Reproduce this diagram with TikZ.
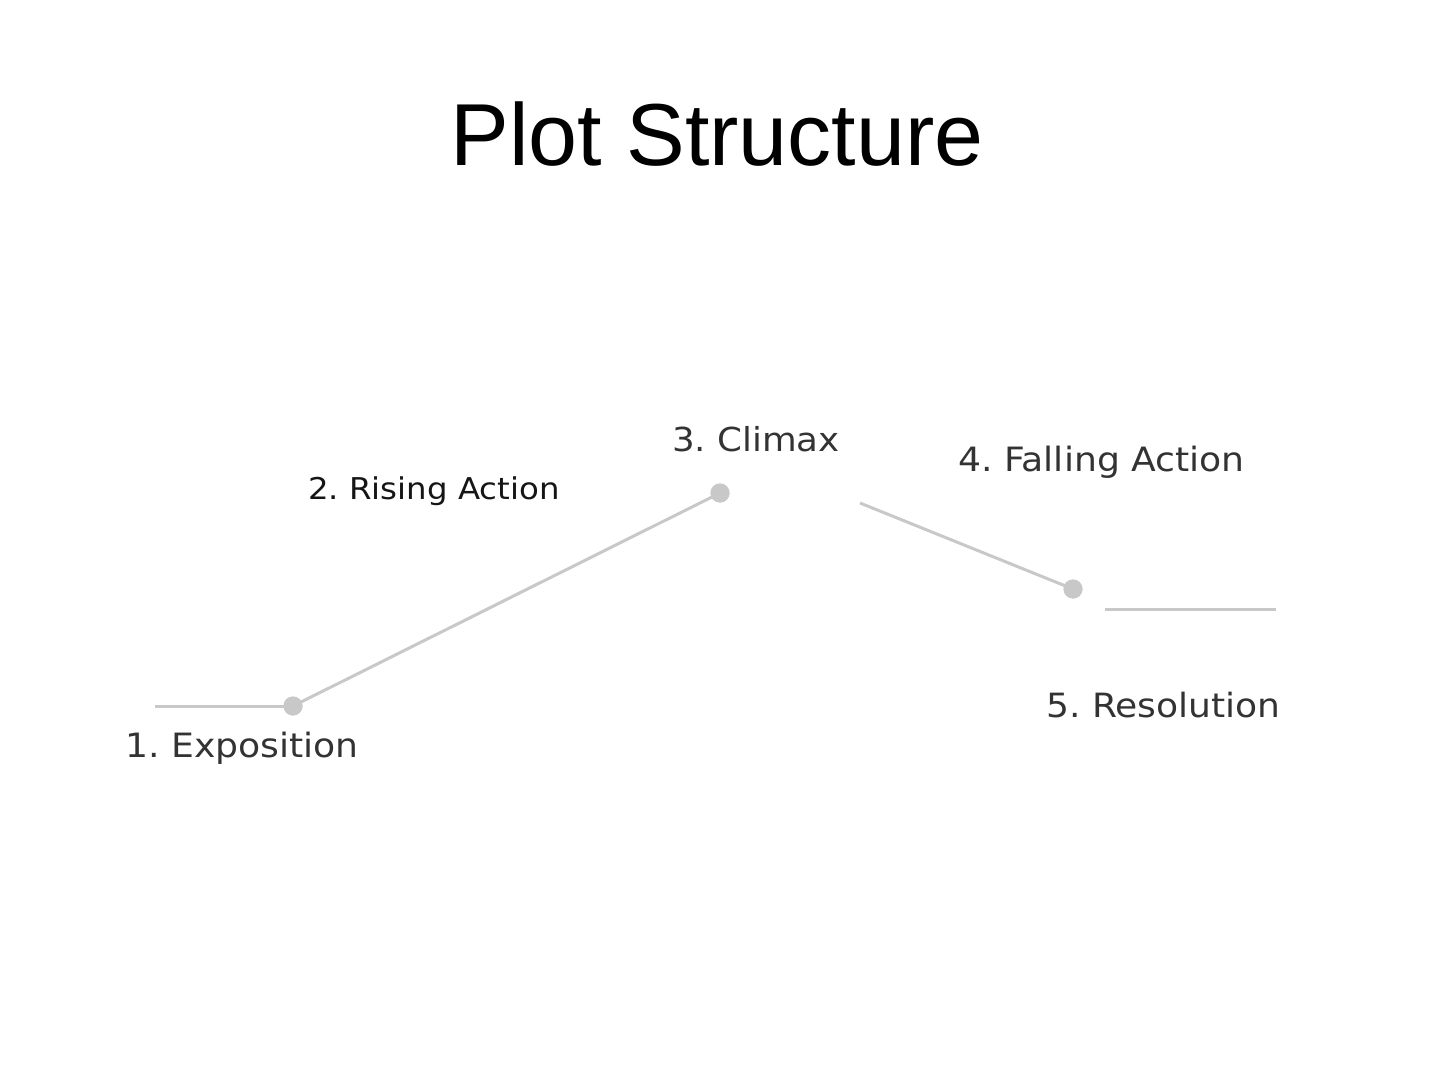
\documentclass[tikz,border=0pt]{standalone}
\usepackage{fontspec}
\setmainfont[FakeStretch=1.08]{DejaVu Sans}
\newfontfamily\titlefont{Liberation Sans}
\definecolor{linegray}{HTML}{C8C8C8}
\definecolor{textgray}{HTML}{333333}
\definecolor{textdark}{HTML}{151515}
\frenchspacing
\begin{document}
\begin{tikzpicture}[x=1pt,y=-1pt,
  plotline/.style={draw=linegray,line width=3pt},
  plotdot/.style={circle,fill=linegray,inner sep=0pt,minimum size=19pt},
  lbl/.style={inner sep=0pt,anchor=base west,text=textgray}]
\useasboundingbox (0,0) rectangle (1434,1070);
\node[inner sep=0pt,anchor=base,font=\titlefont\fontsize{88}{100}\selectfont] (title) at (717,165) {Plot Structure};
\coordinate (s1) at (155,706);
\node[plotdot] (d1) at (293,706) {};
\node[plotdot] (d3) at (720,493) {};
\coordinate (s3) at (860,503);
\node[plotdot] (d4) at (1073,589) {};
\coordinate (s5) at (1105,609);
\coordinate (e5) at (1276,609);
\draw[plotline] (s1) -- (d1.center);
\draw[plotline] (d1.center) -- (d3.center);
\draw[plotline] (s3) -- (d4.center);
\draw[plotline] (s5) -- (e5);
\node[plotdot] at (d1) {};
\node[plotdot] at (d3) {};
\node[plotdot] at (d4) {};
\node[lbl,font=\fontsize{33.5}{38}\selectfont] (l1) at (125,757) {1. Exposition};
\node[lbl,text=textdark,font=\fontsize{30}{36}\selectfont] (l2) at (308,499) {2. Rising Action};
\node[lbl,font=\fontsize{33}{40}\selectfont] (l3) at (672,451) {3. Climax};
\node[lbl,font=\fontsize{33.5}{40}\selectfont] (l4) at (958,471) {4. Falling Action};
\node[lbl,font=\fontsize{33.4}{40}\selectfont] (l5) at (1046,717) {5. Resolution};
\end{tikzpicture}
\end{document}
